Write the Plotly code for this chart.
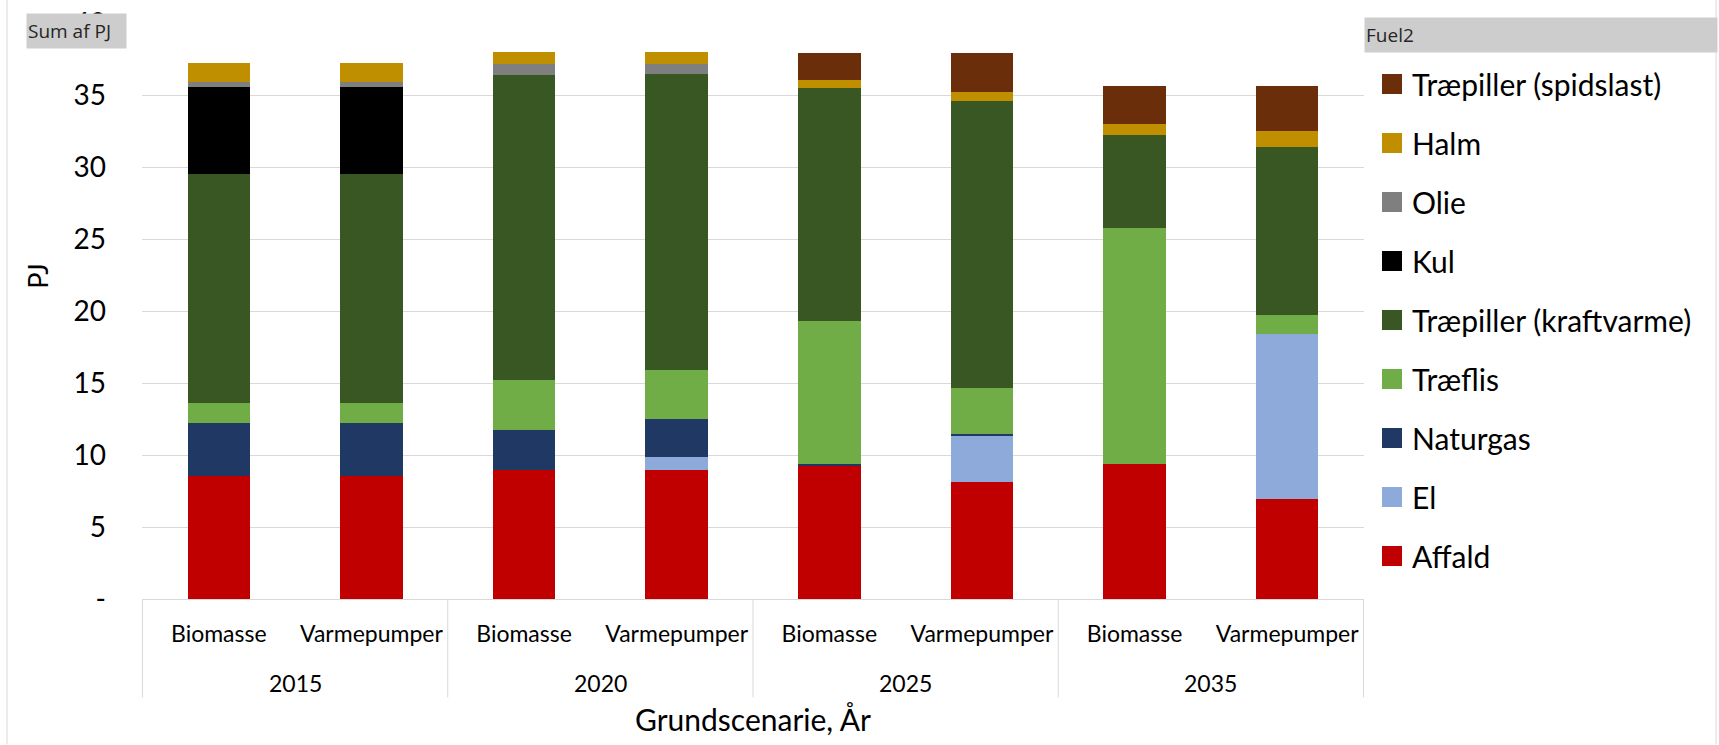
import plotly.graph_objects as go

# Scenario / year categories
years = ["2015", "2015", "2020", "2020", "2025", "2025", "2035", "2035"]
scenarios = ["Biomasse", "Varmepumper"] * 4

# Fuel use (PJ) per scenario and year, stacked from the bottom up
affald = [8.51, 8.51, 8.93, 8.93, 9.22, 8.16, 9.41, 6.97]
el = [0, 0, 0, 0.93, 0, 3.13, 0, 11.45]
naturgas = [3.71, 3.71, 2.81, 2.62, 0.19, 0.18, 0, 0]
traeflis = [1.37, 1.37, 3.50, 3.39, 9.91, 3.21, 16.37, 1.32]
traepiller_kv = [15.90, 15.90, 21.14, 20.59, 16.19, 19.87, 6.47, 11.63]
kul = [6.04, 6.04, 0, 0, 0, 0, 0, 0]
olie = [0.40, 0.40, 0.80, 0.72, 0, 0, 0, 0]
halm = [1.27, 1.27, 0.82, 0.82, 0.53, 0.69, 0.74, 1.14]
traepiller_sp = [0, 0, 0, 0, 1.85, 2.65, 2.65, 3.13]

y_ticks = [0, 5, 10, 15, 20, 25, 30, 35, 40]
y_ticktext = ["-", "5", "10", "15", "20", "25", "30", "35", "40"]

series = [
    ("Affald", affald, "#c00000"),
    ("El", el, "#8eaadb"),
    ("Naturgas", naturgas, "#203864"),
    ("Træflis", traeflis, "#70ad47"),
    ("Træpiller (kraftvarme)", traepiller_kv, "#385723"),
    ("Kul", kul, "#000000"),
    ("Olie", olie, "#7f7f7f"),
    ("Halm", halm, "#bf8f00"),
    ("Træpiller (spidslast)", traepiller_sp, "#6a2e0b"),
]

FONT = "Lato, 'Open Sans', sans-serif"
GRID = "#d9d9d9"

W, H = 1719, 745
PL, PR, PT, PB = 142, 1364, 23, 599.5   # plot area edges in pixels
PW, PH = PR - PL, PB - PT


def px_x(x):
    return (x - PL) / PW


def px_y(y):
    return (PB - y) / PH


# One category per (year, scenario) pair; the scenario is shown as tick text
x_keys = [f"{s} {y}" for y, s in zip(years, scenarios)]

fig = go.Figure()
for name, vals, color in series:
    fig.add_trace(go.Bar(
        x=x_keys, y=vals, name=name,
        marker=dict(color=color, line=dict(width=0)),
        showlegend=False,
    ))

# Legend entries with large square swatches (top to bottom)
for i, (name, vals, color) in enumerate(reversed(series)):
    fig.add_trace(go.Scatter(
        x=[None], y=[None], mode="markers", name=name,
        marker=dict(symbol="square", size=16, color=color,
                    line=dict(color=color, width=4)),
        xaxis="x2", yaxis="y2", legendgroup=f"g{i}",
    ))

fig.update_layout(
    width=W, height=H,
    margin=dict(l=PL, r=W - PR, t=PT, b=H - PB),
    paper_bgcolor="white", plot_bgcolor="white",
    barmode="stack", bargap=0.59,
    font=dict(family=FONT, color="#000000"),
    xaxis=dict(
        type="category", categoryorder="array", categoryarray=x_keys,
        tickvals=x_keys, ticktext=scenarios,
        showline=True, linecolor=GRID, linewidth=1,
        ticks="", tickfont=dict(size=23),
        ticklabelstandoff=14,
        title=dict(text="Grundscenarie, År", font=dict(size=30), standoff=64),
        automargin=False, showgrid=False,
    ),
    yaxis=dict(
        range=[0, 40], tickvals=y_ticks, ticktext=y_ticktext,
        showgrid=True, gridcolor=GRID, gridwidth=1,
        zeroline=False, showline=False,
        tickfont=dict(size=28), ticklabelstandoff=35,
        automargin=False,
    ),
    xaxis2=dict(visible=False, overlaying="x", range=[0, 1]),
    yaxis2=dict(visible=False, overlaying="y", range=[0, 1]),
    legend=dict(
        x=px_x(1372), xanchor="left", y=px_y(58), yanchor="top",
        font=dict(size=30), traceorder="grouped",
        tracegroupgap=17, itemsizing="trace", maxheight=700,
        bgcolor="rgba(0,0,0,0)",
    ),
)

# Value axis title
fig.add_annotation(
    xref="paper", yref="paper", x=px_x(38), y=px_y(277),
    xanchor="center", yanchor="middle",
    text="PJ", textangle=-90, showarrow=False, font=dict(size=27),
)

# Year labels under each pair of scenarios, with group dividers
year_order = list(dict.fromkeys(years))
for yr in year_order:
    idx = [i for i, v in enumerate(years) if v == yr]
    fig.add_annotation(
        xref="x", yref="paper", x=sum(idx) / len(idx), y=px_y(684),
        text=yr, showarrow=False, yanchor="middle", font=dict(size=23),
    )
boundaries = [-0.5] + [i + 0.5 for i in range(len(years) - 1) if years[i] != years[i + 1]] + [len(years) - 0.5]
for b in boundaries:
    fig.add_shape(type="line", xref="x", yref="paper", x0=b, x1=b,
                  y0=0, y1=px_y(698), line=dict(color=GRID, width=1))

# Frame edges of the chart area
for xe in [px_x(7), px_x(1716)]:
    fig.add_shape(type="line", xref="paper", yref="paper", x0=xe, x1=xe,
                  y0=px_y(H), y1=px_y(0), line=dict(color=GRID, width=1))

# Field buttons
fig.add_annotation(
    xref="paper", yref="paper", x=px_x(26), y=px_y(13),
    xanchor="left", yanchor="top", text="Sum af PJ", showarrow=False,
    font=dict(family="'Open Sans', sans-serif", size=19, color="#262626"),
    bgcolor="#cdcdcd", width=97, height=32, align="left", borderpad=1,
)
fig.add_annotation(
    xref="paper", yref="paper", x=px_x(1364), y=px_y(17),
    xanchor="left", yanchor="top", text="Fuel2", showarrow=False,
    font=dict(family="'Open Sans', sans-serif", size=19, color="#262626"),
    bgcolor="#cdcdcd", width=350, height=32, align="left", borderpad=1,
)

fig.write_html("out.html")
